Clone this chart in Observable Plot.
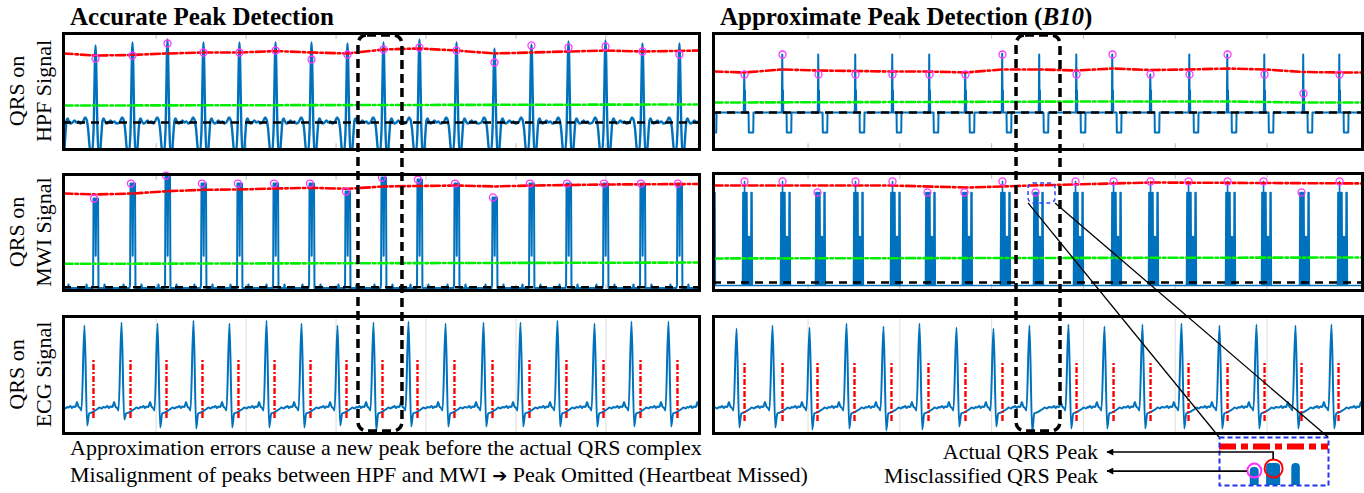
<!DOCTYPE html>
<html><head><meta charset="utf-8">
<script src="https://cdn.jsdelivr.net/npm/d3@7"></script>
<script src="https://cdn.jsdelivr.net/npm/@observablehq/plot@0.6"></script>
<style>
body{margin:0;background:#fff;}
#root{position:relative;width:1364px;height:493px;overflow:hidden;font-family:"Liberation Serif","Times New Roman",serif;}
#root svg{position:absolute;}
</style></head><body><div id="root"></div>
<script>
// ---------- shared axis ----------
const X_DOMAIN = [-0.03, 7.04];
const TICKS = [1, 2, 3, 4, 5, 6];

// ---------- Accurate (left) : HPF ----------
const hpfL_t    = [-0.074, 0.326, 0.737, 1.126, 1.526, 1.926, 2.327, 2.727, 3.127, 3.527, 3.927, 4.339, 4.761, 5.172, 5.584, 5.995, 6.406, 6.817];
const hpfL_peak = [0.92, 0.897, 0.922, 0.948, 0.922, 0.922, 0.922, 0.922, 0.914, 0.922, 0.948, 0.922, 0.871, 0.905, 0.931, 0.940, 0.914, 0.914];
const hpfL_mark = [null, 0.784, 0.810, 0.914, 0.836, 0.836, 0.853, 0.776, 0.819, 0.862, 0.879, 0.853, 0.750, 0.897, 0.879, 0.888, 0.845, 0.819];
const hpfL_redT = [-0.03, 0.326, 0.737, 1.126, 1.526, 1.926, 2.327, 2.727, 3.127, 3.527, 3.927, 4.339, 4.761, 5.172, 5.584, 5.995, 6.406, 7.04];
const hpfL_redV = [0.828, 0.810, 0.815, 0.828, 0.836, 0.836, 0.849, 0.836, 0.828, 0.862, 0.871, 0.853, 0.828, 0.836, 0.845, 0.853, 0.845, 0.853];
const hpfL_greenT = [-0.03, 7.04];
const hpfL_greenV = [0.379, 0.388];
const hpfL_noise = 0.233;
const hpfL_shape = [[-0.145,0.233],[-0.133,0.250],[-0.117,0.276],[-0.100,0.259],[-0.083,0.181],[-0.067,0.034],[-0.056,-0.034],[-0.039,-0.034],[-0.022,0.164],[0,"P"],[0.022,0.164],[0.033,-0.034],[0.050,-0.034],[0.061,0.078],[0.078,0.250],[0.089,0.267],[0.106,0.241],[0.122,0.224],[0.145,0.233],[0.167,0.250],[0.189,0.233],[0.211,0.241],[0.233,0.224]];

// ---------- Accurate (left) : MWI ----------
const mwiL_peak = [0.80, 0.793, 0.922, 0.991, 0.922, 0.922, 0.922, 0.922, 0.853, 0.974, 0.957, 0.922, 0.802, 0.922, 0.922, 0.922, 0.922, 0.922];
const mwiL_redT = [-0.03, 0.326, 0.737, 1.126, 1.526, 1.926, 2.327, 2.727, 3.127, 3.527, 3.927, 4.339, 4.761, 5.172, 5.584, 5.995, 7.04];
const mwiL_redV = [0.836, 0.828, 0.836, 0.856, 0.868, 0.871, 0.879, 0.885, 0.877, 0.897, 0.901, 0.905, 0.897, 0.905, 0.909, 0.914, 0.918];
const mwiL_greenV = [0.230, 0.241];
const mwiL_noise = 0.028;
const mwiL_shape = [[-0.156,0.022],[-0.106,0.022],[-0.100,0.052],[-0.094,0.022],[-0.033,0.022],[-0.027,0.052],[-0.022,"P"],[-0.003,"P"],[0.002,0.30],[0.008,"P"],[0.028,"P"],[0.033,0.022],[0.094,0.022],[0.100,0.052],[0.106,0.022],[0.245,0.022]];

// ---------- Accurate (left) : ECG ----------
const ecgL_t = [-0.20, 0.203, 0.615, 1.015, 1.415, 1.815, 2.227, 2.616, 3.016, 3.416, 3.805, 4.217, 4.639, 5.050, 5.461, 5.873, 6.284, 6.695, 7.10];
const ecgL_R = [0.94, 0.923, 0.949, 0.940, 0.966, 0.940, 0.966, 0.940, 0.923, 0.949, 0.957, 0.940, 0.949, 0.949, 0.966, 0.940, 0.957, 0.957, 0.94];
const ecgL_S = [0.06, 0.068, 0.120, 0.051, 0.043, 0.051, 0.051, 0.051, 0.068, 0.026, 0.060, 0.060, 0.060, 0.060, 0.060, 0.060, 0.060, 0.060, 0.06];
const ecgL_det = [0.303, 0.715, 1.115, 1.515, 1.915, 2.316, 2.716, 3.116, 3.516, 3.905, 4.316, 4.739, 5.150, 5.561, 5.973, 6.384, 6.795];
const ecgL_detV = [0.128, 0.624];
const ecg_shape = [[-0.178,0.222],[-0.156,0.235],[-0.139,0.218],[-0.122,0.231],[-0.100,0.226],[-0.083,0.269],[-0.067,0.231],[-0.050,0.218],[-0.033,0.197],[0,"R"],[0.030,"S"],[0.052,0.171],[0.078,0.179],[0.100,0.188],[0.122,0.197],[0.145,0.209],[0.167,0.222],[0.189,0.214],[0.211,0.226]];

// ---------- Approximate (right) : HPF ----------
const hpfR_t    = [-0.095, 0.308, 0.722, 1.114, 1.517, 1.920, 2.323, 2.715, 3.118, 3.521, 3.925, 4.317, 4.731, 5.156, 5.570, 5.973, 6.397, 6.790, 7.19];
const hpfR_peak = [0.819, 0.647, 0.819, 0.819, 0.819, 0.819, 0.819, 0.655, 0.828, 0.819, 0.819, 0.819, 0.647, 0.819, 0.819, 0.819, 0.819, 0.819, 0.819];
const hpfR_mark = [null, 0.647, 0.819, 0.647, 0.647, 0.647, 0.647, 0.647, 0.819, null, 0.647, 0.819, 0.647, 0.647, 0.819, 0.647, 0.483, 0.647, null];
const hpfR_redT = [-0.03, 0.308, 0.722, 1.114, 1.517, 1.920, 2.323, 2.715, 3.118, 3.521, 3.925, 4.317, 4.731, 5.156, 5.570, 5.973, 6.397, 6.790, 7.04];
const hpfR_redV = [0.672, 0.664, 0.690, 0.681, 0.677, 0.672, 0.672, 0.664, 0.690, 0.690, 0.681, 0.698, 0.685, 0.690, 0.698, 0.690, 0.668, 0.664, 0.664];
const hpfR_greenT = [-0.03, 4.317, 5.570, 6.397, 7.04];
const hpfR_greenV = [0.405, 0.414, 0.414, 0.405, 0.405];
const hpfR_noise = 0.319;
const hpfR_shape = [[-0.016,0.319],[-0.008,0.319],[-0.006,0.50],[-0.003,"P"],[0.0,0.52],[0.003,0.319],[0.005,0.509],[0.008,0.319],[0.044,0.319],[0.047,0.147],[0.095,0.147],[0.098,0.319]];

// ---------- Approximate (right) : MWI ----------
const mwiR_t    = [-0.095, 0.308, 0.722, 1.103, 1.517, 1.920, 2.301, 2.704, 3.118, 3.478, 3.914, 4.328, 4.731, 5.145, 5.570, 5.962, 6.376, 6.790, 7.19];
const mwiR_peak = [0.932, 0.932, 0.932, 0.838, 0.932, 0.932, 0.838, 0.838, 0.932, 0.838, 0.932, 0.932, 0.932, 0.932, 0.932, 0.932, 0.838, 0.932, 0.932];
const mwiR_redT = [-0.03, 1.920, 2.737, 3.118, 3.423, 4.731, 7.04];
const mwiR_redV = [0.897, 0.897, 0.880, 0.889, 0.897, 0.923, 0.915];
const mwiR_greenV = [0.274, 0.282];
const mwiR_noise = 0.068;
const mwiR_shape = [[-0.022,0.043],[-0.017,0.838],[-0.013,0.043],[-0.009,0.838],[-0.004,0.043],[0,"P"],[0.004,0.043],[0.009,0.838],[0.013,0.043],[0.017,0.838],[0.022,0.043],[0.026,0.838],[0.031,0.043],[0.035,0.462],[0.039,0.043],[0.044,0.462],[0.048,0.043],[0.052,0.462],[0.057,0.043],[0.068,0.043],[0.072,0.838],[0.076,0.043],[0.081,0.838],[0.085,0.043]];
const zoomBox = {x1: 3.402, x2: 3.696, y1: 0.744, y2: 0.915};

// ---------- Approximate (right) : ECG ----------
const ecgR_t = [-0.18, 0.221, 0.613, 1.016, 1.419, 1.822, 2.214, 2.617, 3.020, 3.412, 3.837, 4.229, 4.643, 5.068, 5.482, 5.885, 6.310, 6.702, 7.106];
const ecgR_R = [0.92, 0.897, 0.923, 0.906, 0.940, 0.915, 0.940, 0.906, 0.897, 0.923, 0.932, 0.915, 0.932, 0.940, 0.923, 0.932, 0.923, 0.932, 0.92];
const ecgR_S = [0.05, 0.051, 0.051, 0.034, 0.043, 0.026, 0.034, 0.060, 0.060, 0.009, 0.043, 0.043, 0.043, 0.043, 0.043, 0.043, 0.043, 0.043, 0.05];
const ecgR_det = [0.308, 0.722, 1.103, 1.506, 1.909, 2.312, 2.715, 3.118, 3.925, 4.328, 4.731, 5.145, 5.570, 5.973, 6.376, 6.779];
const ecgR_detV = [0.103, 0.598];

// ---------- inset (zoom of the misclassified MWI cluster) ----------
const insetRedV = 0.883;
const insetBlobs = [{x1: 3.485, x2: 3.509, top: 0.808}, {x1: 3.529, x2: 3.567, top: 0.822}, {x1: 3.597, x2: 3.620, top: 0.822}];
const insetMiss = {t: 3.496, v: 0.797};
const insetActual = {t: 3.548, v: 0.805};

// ---------- highlighted beat window ----------
const highlightL = [3.249, 3.738];
const highlightR = [3.271, 3.750];

// ---------- texts ----------
const titleL = "Accurate Peak Detection";
const titleR = ["Approximate Peak Detection (", "B10", ")"];
const rowLabels = [["QRS on", "HPF Signal"], ["QRS on", "MWI Signal"], ["QRS on", "ECG Signal"]];
const note1 = "Approximation errors cause a new peak before the actual QRS complex";
const note2 = ["Misalignment of peaks between HPF and MWI ", "\u2794", " Peak Omitted (Heartbeat Missed)"];
const lblActual = "Actual QRS Peak";
const lblMiss = "Misclassified QRS Peak";

// ================= build =================
const root = document.getElementById("root");
const BLUE = "#0072BD";
const DASHDOT = "9,3,2.5,3";

function expand(times, shape, vals) {
  const rows = [];
  times.forEach((t0, i) => {
    for (const [dt, v] of shape) rows.push({t: t0 + dt, v: typeof v === "string" ? vals[v][i] : v});
  });
  return rows.sort((a, b) => a.t - b.t);
}
const pts = (ts, vs) => ts.map((t, i) => ({t, v: vs[i]}));
const markPts = (ts, vs, dt = 0) => ts.map((t, i) => ({t: t + dt, v: vs[i]})).filter(d => d.v != null);

function thresholds(red, green, noise) {
  return [
    Plot.ruleY([noise], {stroke: "#000", strokeWidth: 2.6, strokeDasharray: "8,6"}),
    Plot.line(green, {x: "t", y: "v", stroke: "#00ee00", strokeWidth: 2.6, strokeDasharray: DASHDOT}),
    Plot.line(red, {x: "t", y: "v", stroke: "#ff0000", strokeWidth: 2.6, strokeDasharray: DASHDOT})
  ];
}
function ticks(full) {
  return full
    ? [Plot.ruleX(TICKS, {stroke: "#dddddd", strokeWidth: 1})]
    : [Plot.ruleX(TICKS, {y1: 0, y2: 0.05, stroke: "#bbbbbb"}), Plot.ruleX(TICKS, {y1: 0.95, y2: 1, stroke: "#bbbbbb"})];
}
function panel(x0, y0, w, h, marks, xdom = X_DOMAIN, ydom = [0, 1], frame = {stroke: "#000", strokeWidth: 3}) {
  const svg = Plot.plot({
    width: w + 4, height: h + 4, marginTop: 2, marginRight: 2, marginBottom: 2, marginLeft: 2,
    x: {domain: xdom, axis: null}, y: {domain: ydom, axis: null},
    style: {background: "transparent", overflow: "visible"},
    marks: [...marks, Plot.frame(frame)]
  });
  svg.style.left = (x0 - 2) + "px";
  svg.style.top = (y0 - 2) + "px";
  root.appendChild(svg);
  return {svg, x0: x0 - 2, y0: y0 - 2, sx: svg.scale("x"), sy: svg.scale("y")};
}
const dots = (data) => Plot.dot(data, {x: "t", y: "v", r: 3.5, stroke: "#ff33ff", strokeWidth: 1.3});

// --- left column ---
const pL1 = panel(63, 33, 636, 116, [
  ...ticks(false),
  Plot.line(expand(hpfL_t, hpfL_shape, {P: hpfL_peak}), {x: "t", y: "v", stroke: BLUE, strokeWidth: 2.4, curve: "monotone-x", clip: true}),
  ...thresholds(pts(hpfL_redT, hpfL_redV), pts(hpfL_greenT, hpfL_greenV), hpfL_noise),
  dots(markPts(hpfL_t, hpfL_mark))
]);
const pL2 = panel(63, 174, 636, 116, [
  ...ticks(false),
  Plot.line(expand(hpfL_t, mwiL_shape, {P: mwiL_peak}), {x: "t", y: "v", stroke: BLUE, strokeWidth: 2, clip: true}),
  ...thresholds(pts(mwiL_redT, mwiL_redV), pts(hpfL_greenT, mwiL_greenV), mwiL_noise),
  dots(markPts(hpfL_t.slice(1), mwiL_peak.slice(1), -0.017))
]);
const pL3 = panel(63, 316, 636, 117, [
  ...ticks(true),
  Plot.line(expand(ecgL_t, ecg_shape, {R: ecgL_R, S: ecgL_S}), {x: "t", y: "v", stroke: BLUE, strokeWidth: 2, curve: "monotone-x", clip: true}),
  Plot.ruleX(ecgL_det, {y1: ecgL_detV[0], y2: ecgL_detV[1], stroke: "#ff0000", strokeWidth: 2.4, strokeDasharray: "6,2,2,2"})
]);

// --- right column ---
const pR1 = panel(713, 33, 649, 116, [
  ...ticks(false),
  Plot.line(expand(hpfR_t, hpfR_shape, {P: hpfR_peak}), {x: "t", y: "v", stroke: BLUE, strokeWidth: 2, clip: true}),
  ...thresholds(pts(hpfR_redT, hpfR_redV), pts(hpfR_greenT, hpfR_greenV), hpfR_noise),
  dots(markPts(hpfR_t, hpfR_mark))
]);
const pR2 = panel(713, 173, 649, 117, [
  ...ticks(false),
  Plot.line(expand(mwiR_t, mwiR_shape, {P: mwiR_peak}), {x: "t", y: "v", stroke: BLUE, strokeWidth: 1.6, clip: true}),
  ...thresholds(pts(mwiR_redT, mwiR_redV), pts(hpfL_greenT, mwiR_greenV), mwiR_noise),
  dots(markPts(mwiR_t.slice(1, -1), mwiR_peak.slice(1, -1))),
  Plot.rect([zoomBox], {x1: "x1", x2: "x2", y1: "y1", y2: "y2", fill: "none", stroke: "#3344ff", strokeWidth: 1.5, strokeDasharray: "4,3", rx: 5})
]);
const pR3 = panel(713, 316, 649, 117, [
  ...ticks(true),
  Plot.line(expand(ecgR_t, ecg_shape, {R: ecgR_R, S: ecgR_S}), {x: "t", y: "v", stroke: BLUE, strokeWidth: 2, curve: "monotone-x", clip: true}),
  Plot.ruleX(ecgR_det, {y1: ecgR_detV[0], y2: ecgR_detV[1], stroke: "#ff0000", strokeWidth: 2.4, strokeDasharray: "6,2,2,2"})
]);

// --- inset ---
const pIn = panel(1219, 437, 109, 48, [
  Plot.ruleY([insetRedV], {stroke: "#ff0000", strokeWidth: 6, strokeDasharray: "17,5,7,5"}),
  Plot.rect(insetBlobs, {x1: "x1", x2: "x2", y1: 0.6, y2: "top", fill: BLUE, rx: 4, clip: true}),
  Plot.dot([insetMiss], {x: "t", y: "v", r: 7, stroke: "#ff33ff", strokeWidth: 2}),
  Plot.dot([insetActual], {x: "t", y: "v", r: 9, stroke: "#ff0000", strokeWidth: 2})
], [zoomBox.x1, zoomBox.x2], [zoomBox.y1, zoomBox.y2], {stroke: "#2233ee", strokeWidth: 2, strokeDasharray: "5,3"});

// ================= overlay =================
const NS = "http://www.w3.org/2000/svg";
const ov = document.createElementNS(NS, "svg");
ov.setAttribute("width", 1364); ov.setAttribute("height", 493);
ov.style.left = "0px"; ov.style.top = "0px";
root.appendChild(ov);
function el(tag, attrs, parent = ov, text) {
  const e = document.createElementNS(NS, tag);
  for (const k in attrs) e.setAttribute(k, attrs[k]);
  if (text != null) e.textContent = text;
  parent.appendChild(e);
  return e;
}
const px = (p, t) => p.x0 + p.sx.apply(t);
const py = (p, v) => p.y0 + p.sy.apply(v);

const defs = el("defs", {});
const mk = el("marker", {id: "ah", viewBox: "0 0 10 10", refX: 9, refY: 5, markerWidth: 9, markerHeight: 7, markerUnits: "userSpaceOnUse", orient: "auto"}, defs);
el("path", {d: "M0,0 L10,5 L0,10 z", fill: "#000"}, mk);

// highlighted beat windows
for (const [p, rng, pb] of [[pL1, highlightL, pL3], [pR1, highlightR, pR3]]) {
  const xa = px(p, rng[0]), xb = px(p, rng[1]);
  const ya = p.y0 + 4, yb = pb.y0 + pb.svg.getAttribute("height") * 1 - 4;
  el("rect", {x: xa, y: ya, width: xb - xa, height: yb - ya, rx: 9, fill: "none", stroke: "#000", "stroke-width": 3.5, "stroke-dasharray": "9,5"});
}

// connectors from zoom box to inset
const bxL = px(pR2, zoomBox.x1), bxR = px(pR2, zoomBox.x2), byB = py(pR2, zoomBox.y1);
el("line", {x1: bxL, y1: byB, x2: pIn.x0 + 2, y2: pIn.y0 + 2, stroke: "#000", "stroke-width": 1.3});
el("line", {x1: bxR, y1: byB, x2: pIn.x0 + 2 + 109, y2: pIn.y0 + 2, stroke: "#000", "stroke-width": 1.3});

// arrows
const ax = px(pIn, insetActual.t), ay = py(pIn, insetActual.v) - 9;
el("path", {d: `M${ax},${ay} L${ax},452 L1107,452`, fill: "none", stroke: "#000", "stroke-width": 1.6, "marker-end": "url(#ah)"});
const mxp = px(pIn, insetMiss.t) - 7, myp = py(pIn, insetMiss.v) + 1;
el("path", {d: `M${mxp},${myp} L1107,${myp}`, fill: "none", stroke: "#000", "stroke-width": 1.6, "marker-end": "url(#ah)"});

// titles
const FF = '"Liberation Serif","Times New Roman",serif';
el("text", {x: 70, y: 25, "font-family": FF, "font-size": 25, "font-weight": "bold", fill: "#000"}, ov, titleL);
const tR = el("text", {x: 720, y: 25, "font-family": FF, "font-size": 25, "font-weight": "bold", fill: "#000"});
el("tspan", {}, tR, titleR[0]);
el("tspan", {"font-style": "italic"}, tR, titleR[1]);
el("tspan", {}, tR, titleR[2]);

// row labels
[pL1, pL2, pL3].forEach((p, i) => {
  const cy = p.y0 + (p.svg.getAttribute("height") * 1) / 2;
  el("text", {transform: `translate(24,${cy}) rotate(-90)`, "text-anchor": "middle", "font-family": FF, "font-size": 22, fill: "#000"}, ov, rowLabels[i][0]);
  el("text", {transform: `translate(51,${cy}) rotate(-90)`, "text-anchor": "middle", "font-family": FF, "font-size": 22, fill: "#000"}, ov, rowLabels[i][1]);
});

// notes
el("text", {x: 70, y: 455, "font-family": FF, "font-size": 22, fill: "#000"}, ov, note1);
const n2 = el("text", {x: 70, y: 482, "font-family": FF, "font-size": 22, fill: "#000"});
el("tspan", {}, n2, note2[0]);
el("tspan", {"font-family": '"DejaVu Sans",sans-serif', "font-size": 18}, n2, note2[1]);
el("tspan", {}, n2, note2[2]);
el("text", {x: 1098, y: 459, "text-anchor": "end", "font-family": FF, "font-size": 22, fill: "#000"}, ov, lblActual);
el("text", {x: 1098, y: 483, "text-anchor": "end", "font-family": FF, "font-size": 22, fill: "#000"}, ov, lblMiss);
</script></body></html>
